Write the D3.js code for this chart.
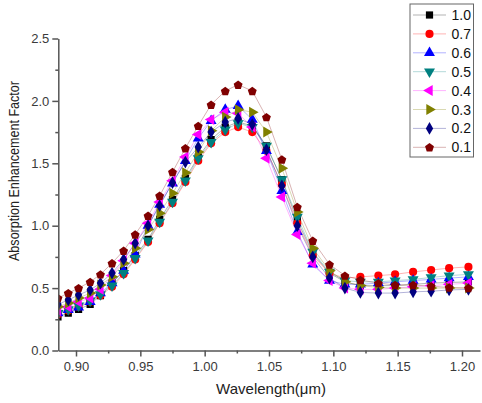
<!DOCTYPE html>
<html>
<head>
<meta charset="utf-8">
<script src="https://cdn.jsdelivr.net/npm/d3@7"></script>
<style>
  html, body { margin: 0; padding: 0; background: #fff; }
  svg { display: block; font-family: Arial, "Liberation Sans", sans-serif; }
</style>
</head>
<body>
<svg id="chart" width="482" height="403"></svg>
<script>
// ---- data ----
const wavelengths = [0.886, 0.894, 0.902, 0.911, 0.919, 0.928, 0.937, 0.946, 0.956, 0.965,
                     0.975, 0.985, 0.995, 1.005, 1.016, 1.026, 1.037, 1.048, 1.060, 1.072,
                     1.084, 1.097, 1.109, 1.121, 1.135, 1.148, 1.162, 1.176, 1.190, 1.205];
const seriesNames = ["1.0", "0.7", "0.6", "0.5", "0.4", "0.3", "0.2", "0.1"];
const s10 = [0.27, 0.30, 0.33, 0.37, 0.44, 0.54, 0.64, 0.76, 0.89, 1.05, 1.21, 1.38, 1.55, 1.69, 1.79, 1.83, 1.80, 1.64, 1.37, 1.04, 0.78, 0.62, 0.55, 0.52, 0.52, 0.52, 0.53, 0.54, 0.545, 0.55];
const s07 = [0.29, 0.32, 0.35, 0.39, 0.44, 0.51, 0.61, 0.73, 0.87, 1.02, 1.18, 1.35, 1.52, 1.66, 1.75, 1.79, 1.75, 1.60, 1.33, 1.02, 0.76, 0.62, 0.58, 0.59, 0.60, 0.61, 0.63, 0.645, 0.66, 0.67];
const s06 = [0.30, 0.325, 0.346, 0.39, 0.46, 0.54, 0.64, 0.77, 1.00, 1.17, 1.34, 1.52, 1.70, 1.84, 1.93, 1.96, 1.85, 1.60, 1.28, 0.95, 0.69, 0.56, 0.53, 0.53, 0.54, 0.55, 0.56, 0.57, 0.58, 0.59];
const s05 = [0.30, 0.33, 0.36, 0.40, 0.45, 0.52, 0.62, 0.74, 0.88, 1.03, 1.19, 1.36, 1.54, 1.67, 1.77, 1.82, 1.79, 1.64, 1.37, 1.07, 0.79, 0.63, 0.56, 0.55, 0.55, 0.56, 0.57, 0.585, 0.60, 0.61];
const s04 = [0.32, 0.35, 0.39, 0.42, 0.49, 0.60, 0.72, 0.86, 1.02, 1.19, 1.36, 1.55, 1.73, 1.85, 1.91, 1.90, 1.79, 1.54, 1.23, 0.93, 0.70, 0.56, 0.50, 0.49, 0.49, 0.50, 0.51, 0.52, 0.53, 0.54];
const s03 = [0.35, 0.38, 0.42, 0.46, 0.525, 0.59, 0.70, 0.82, 0.97, 1.10, 1.26, 1.425, 1.59, 1.76, 1.87, 1.93, 1.91, 1.75, 1.46, 1.11, 0.82, 0.64, 0.55, 0.52, 0.505, 0.50, 0.50, 0.50, 0.50, 0.50];
const s02 = [0.37, 0.405, 0.445, 0.485, 0.54, 0.62, 0.73, 0.86, 1.00, 1.16, 1.345, 1.51, 1.63, 1.75, 1.83, 1.86, 1.81, 1.61, 1.32, 1.00, 0.75, 0.58, 0.50, 0.465, 0.46, 0.46, 0.47, 0.475, 0.485, 0.49];
const s01 = [0.42, 0.46, 0.50, 0.55, 0.61, 0.70, 0.80, 0.93, 1.08, 1.24, 1.43, 1.62, 1.80, 1.97, 2.08, 2.13, 2.08, 1.87, 1.53, 1.15, 0.88, 0.69, 0.60, 0.565, 0.54, 0.525, 0.525, 0.515, 0.505, 0.50];
const seriesValues = [s10, s07, s06, s05, s04, s03, s02, s01];
const xTicks = [0.90, 0.95, 1.00, 1.05, 1.10, 1.15, 1.20];
const yTicks = [0.0, 0.5, 1.0, 1.5, 2.0, 2.5];

// ---- styles ----
const colors = ["#000000", "#ff0000", "#0000ff", "#008080", "#ff00ff", "#808000", "#000080", "#800000"];
const shapes = ["square", "circle", "triUp", "triDown", "triLeft", "triRight", "diamond", "pentagon"];

const svg = d3.select("#chart");
const x0 = 58.3, x1 = 480, yBot = 350.5, yTop = 38.5;
const x = d3.scaleLinear().domain([0.90, 1.20]).range([76, 462]);
const xDom = [x.invert(x0), x.invert(x1)];
x.domain(xDom).range([x0, x1]);
const y = d3.scaleLinear().domain([0, 2.5]).range([yBot, yTop]);

const axisColor = "#555";
const labelColor = "#3a3a3a";

function symbolPath(shape, s) {
  switch (shape) {
    case "square": return d3.symbol(d3.symbolSquare, s)();
    case "circle": return d3.symbol(d3.symbolCircle, s)();
    case "diamond": return d3.symbol(d3.symbolDiamond, s * 0.9)();
    case "pentagon": {
      const r = Math.sqrt(s / 2.378);
      const pts = d3.range(5).map(i => {
        const a = -Math.PI / 2 + i * 2 * Math.PI / 5;
        return [r * Math.cos(a), r * Math.sin(a) + r * 0.1];
      });
      return "M" + pts.map(p => p.join(",")).join("L") + "Z";
    }
    default: return d3.symbol(d3.symbolTriangle, s)();
  }
}
function symbolRot(shape) {
  return {triDown: 180, triLeft: -90, triRight: 90}[shape] || 0;
}

// clip
svg.append("defs").append("clipPath").attr("id", "clip")
  .append("rect").attr("x", x0).attr("y", 0).attr("width", x1 - x0 + 2).attr("height", yBot + 1);

const plot = svg.append("g").attr("clip-path", "url(#clip)");
const line = d3.line().x((d, i) => x(wavelengths[i])).y(d => y(d));

seriesValues.forEach((vals, k) => {
  plot.append("path").datum(vals).attr("d", line)
    .attr("fill", "none").attr("stroke", colors[k]).attr("stroke-opacity", 0.3).attr("stroke-width", 1);
});
seriesValues.forEach((vals, k) => {
  plot.append("g").selectAll("path").data(vals).join("path")
    .attr("d", symbolPath(shapes[k], 52))
    .attr("transform", (d, i) => `translate(${x(wavelengths[i])},${y(d)}) rotate(${symbolRot(shapes[k])})`)
    .attr("fill", colors[k]);
});

// axes
const xAxis = svg.append("g").attr("transform", `translate(0,${yBot})`)
  .call(d3.axisBottom(x).tickValues(xTicks).tickFormat(d3.format(".2f")).tickSize(6).tickSizeOuter(0));
const xMinor = svg.append("g").attr("transform", `translate(0,${yBot})`)
  .call(d3.axisBottom(x).tickValues([0.925, 0.975, 1.025, 1.075, 1.125, 1.175]).tickFormat("").tickSize(3).tickSizeOuter(0));
const yAxis = svg.append("g").attr("transform", `translate(${x0},0)`)
  .call(d3.axisLeft(y).tickValues(yTicks).tickFormat(d3.format(".1f")).tickSize(6).tickSizeOuter(0));
const yMinor = svg.append("g").attr("transform", `translate(${x0},0)`)
  .call(d3.axisLeft(y).tickValues([0.25, 0.75, 1.25, 1.75, 2.25]).tickFormat("").tickSize(3).tickSizeOuter(0));
xMinor.select(".domain").remove();
yMinor.select(".domain").remove();
[xAxis, yAxis, xMinor, yMinor].forEach(g => {
  g.selectAll("path.domain").attr("stroke", axisColor).attr("stroke-width", 1.5);
  g.selectAll(".tick line").attr("stroke", axisColor).attr("stroke-width", 1.5);
  g.selectAll(".tick text").attr("fill", labelColor).attr("font-size", 13)
    .attr("font-family", "Arial, 'Liberation Sans', sans-serif");
});
xAxis.selectAll(".tick text").attr("dy", "0.95em").attr("y", 8);
yAxis.selectAll(".tick text").attr("x", -9);

// titles
svg.append("text").attr("x", 271).attr("y", 394).attr("text-anchor", "middle")
  .attr("font-size", 15).attr("fill", "#222").text("Wavelength(μm)");
svg.append("text").attr("transform", "translate(18.5,171) rotate(-90)").attr("text-anchor", "middle")
  .attr("font-size", 15).attr("fill", "#222")
  .attr("textLength", 180).attr("lengthAdjust", "spacingAndGlyphs")
  .text("Absorption Enhancement Factor");

// legend
const lg = svg.append("g");
lg.append("rect").attr("x", 410).attr("y", 4).attr("width", 63.5).attr("height", 153)
  .attr("fill", "#fff").attr("stroke", "#666").attr("stroke-width", 1);
seriesNames.forEach((name, k) => {
  const ly = 15 + k * 18.9;
  lg.append("line").attr("x1", 413).attr("x2", 446).attr("y1", ly).attr("y2", ly)
    .attr("stroke", colors[k]).attr("stroke-opacity", 0.3).attr("stroke-width", 1);
  lg.append("path").attr("d", symbolPath(shapes[k], 52))
    .attr("transform", `translate(429.5,${ly}) rotate(${symbolRot(shapes[k])})`).attr("fill", colors[k]);
  lg.append("text").attr("x", 451.5).attr("y", ly + 5).attr("font-size", 14).attr("fill", "#111").text(name);
});
</script>
</body>
</html>
